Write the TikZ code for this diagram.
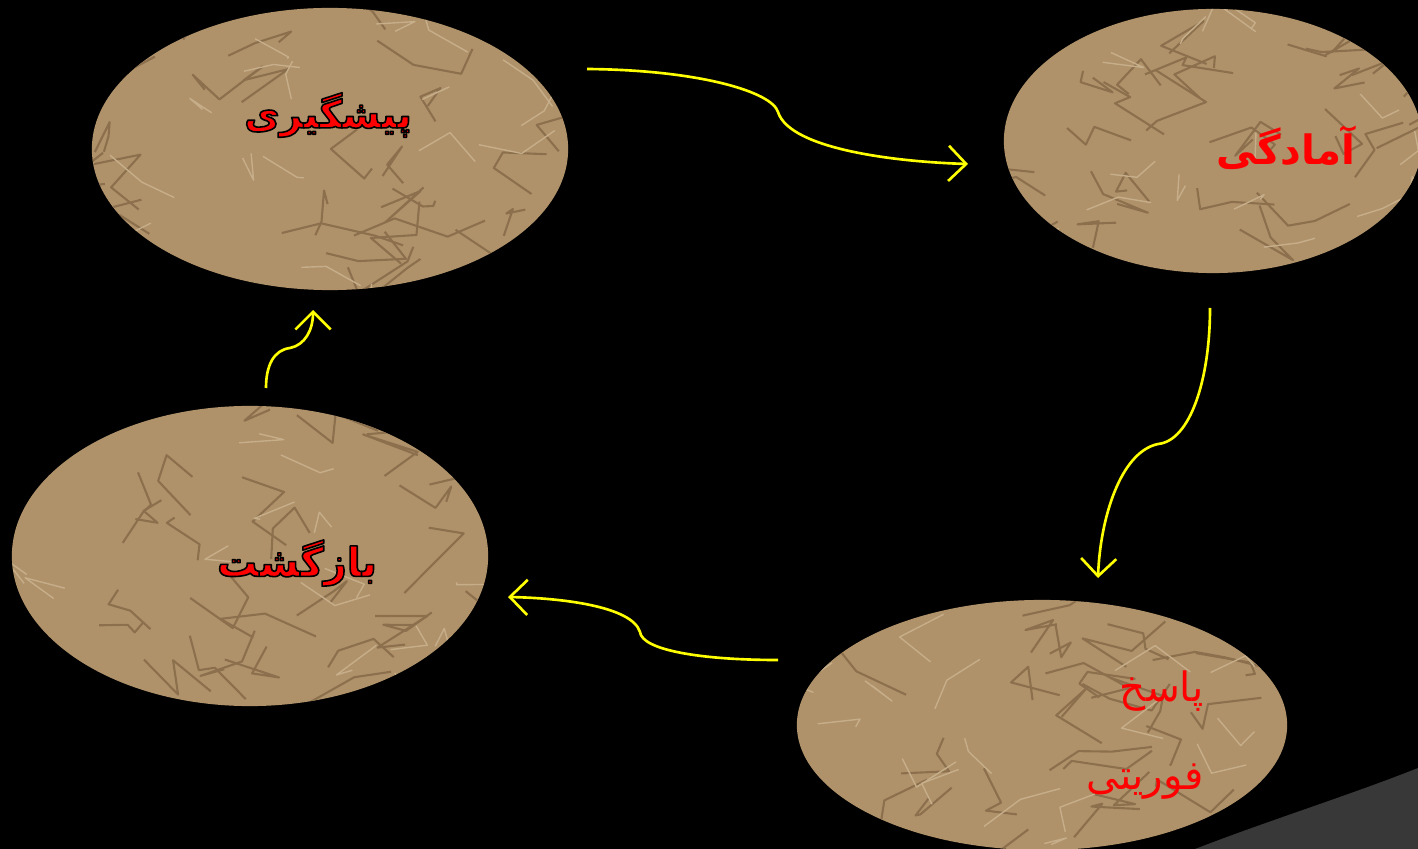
\documentclass[tikz,border=0pt]{standalone}
\usepackage{fontspec}
\usetikzlibrary{arrows.meta,shapes.geometric,calc}
\TeXXeTstate=1
\newfontfamily\arabicfont[Script=Arabic]{DejaVu Sans}
\definecolor{paper}{RGB}{176,146,106}
\definecolor{crease}{RGB}{140,112,78}
\definecolor{sheen}{RGB}{198,174,138}
\definecolor{arrowyellow}{RGB}{255,255,0}
\definecolor{cornergray}{RGB}{56,56,56}
\definecolor{txtred}{RGB}{255,0,0}
\newcommand\outlinedtext[1]{\special{pdf:literal direct 0 0 0 RG 0.45 w 1 j 2 Tr}#1\special{pdf:literal direct 0 Tr}}
\tikzset{
  paperblob/.style={ellipse, fill=paper, inner sep=0pt},
  stagetext/.style={font=\arabicfont\fontsize{12.5pt}{22pt}\selectfont, text=txtred, inner sep=0pt},
  creaseline/.style={draw=crease, line width=0.6pt, line join=round},
  sheenline/.style={draw=sheen, line width=0.4pt, line join=round},
  flow/.style={draw=arrowyellow, line width=0.75pt, -{Straight Barb[length=5pt,width=10pt,line width=0.75pt]}}
}
\newcommand\crumple[3]{%
  \begin{scope}
    \clip (#1.center) ellipse [x radius=#2, y radius=#3];
    \foreach \k in {1,...,30}{
      \draw[creaseline] ($(#1.center)+(rand*#2,rand*#3)$) -- ++(rand*55,rand*35) -- ++(rand*55,rand*35) -- ++(rand*45,rand*35);
    }
    \foreach \k in {1,...,18}{
      \draw[sheenline] ($(#1.center)+(rand*#2,rand*#3)$) -- ++(rand*45,rand*30) -- ++(rand*45,rand*30);
    }
  \end{scope}}
\begin{document}
\begin{tikzpicture}[x=0.01cm,y=-0.01cm]
\pgfmathsetseed{11}
\useasboundingbox (0,0) rectangle (1418,849);
\fill[black] (0,0) rectangle (1418,849);
\fill[cornergray] (1195,849) .. controls (1270,820) and (1350,795) .. (1418,768) -- (1418,849) -- cycle;

\node[paperblob, minimum width=4.76cm, minimum height=2.82cm] (prev) at (330,149) {};
\node[paperblob, minimum width=4.18cm, minimum height=2.64cm] (prep) at (1213,141) {};
\node[paperblob, minimum width=4.76cm, minimum height=3.00cm] (ret) at (250,556) {};
\node[paperblob, minimum width=4.90cm, minimum height=2.50cm] (resp) at (1042,725) {};

\crumple{prev}{238}{141}
\crumple{prep}{209}{132}
\crumple{ret}{238}{150}
\crumple{resp}{245}{125}

\node[stagetext, font=\arabicfont\bfseries\fontsize{11pt}{22pt}\selectfont] (prevt) at (328,115) {\outlinedtext{\beginR پیشگیری\endR}};
\node[stagetext, font=\arabicfont\bfseries\fontsize{11.5pt}{22pt}\selectfont] (prept) at (1286,148) {\beginR آمادگی\endR};
\node[stagetext, font=\arabicfont\bfseries\fontsize{11.4pt}{22pt}\selectfont] (rett) at (297,563) {\outlinedtext{\beginR بازگشت\endR}};
\node[stagetext, font=\arabicfont\fontsize{11.5pt}{25pt}\selectfont, align=right] (respt) at (1145,735) {\beginR پاسخ\endR\\\beginR فوریتی\endR};

\coordinate (a1s) at (587,69);
\coordinate (a1e) at (968,164);
\coordinate (a2s) at (1210,308);
\coordinate (a2e) at (1098,578);
\coordinate (a3s) at (778,660);
\coordinate (a3e) at (508,597);
\coordinate (a4s) at (266,388);
\coordinate (a4e) at (313,310);

\draw[flow] (a1s) .. controls (700,70) and (772,92) .. (778,112) .. controls (790,150) and (900,162) .. (a1e);
\draw[flow] (a2s) .. controls (1210,380) and (1190,441) .. (1158,444) .. controls (1120,452) and (1100,520) .. (a2e);
\draw[flow] (a3s) .. controls (700,660) and (642,650) .. (640,632) .. controls (632,606) and (560,598) .. (a3e);
\draw[flow] (a4s) .. controls (266,365) and (274,350) .. (290,348) .. controls (305,345) and (313,330) .. (a4e);
\end{tikzpicture}
\end{document}
